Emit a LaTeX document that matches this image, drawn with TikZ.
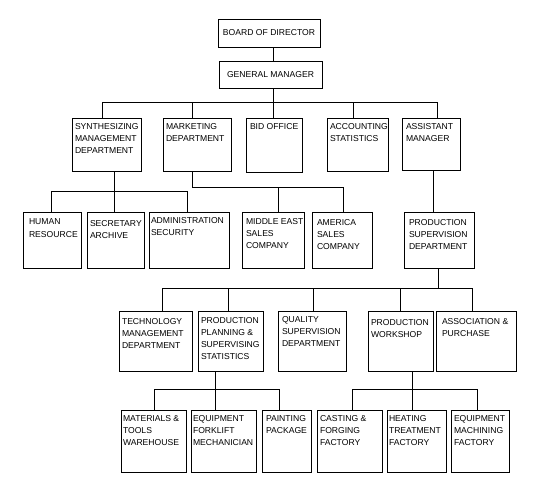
\documentclass[tikz,border=0pt]{standalone}
\usepackage{fontspec}
\setmainfont{Liberation Sans}
\tikzset{
  box/.style={draw, line width=1pt, inner sep=0pt, outer sep=0pt},
  lbl/.style={anchor=north west, inner sep=0pt, outer sep=0pt, align=left,
              font=\fontsize{8.6}{12.2}\selectfont},
  clbl/.style={anchor=center, inner sep=0pt, font=\fontsize{8.6}{12.2}\selectfont},
  conn/.style={line width=1pt},
}
% name, left, top, right, bottom, dx, dy, text
\newcommand\obox[8]{%
  \node[box, minimum width={#4-#2}, minimum height={#5-#3}] (#1) at ({(#2+#4)/2},{(#3+#5)/2}) {};
  \node[lbl] (#1t) at ([xshift=#6pt, yshift=-#7pt]#1.north west) {#8};
}
\newcommand\cbox[6]{%
  \node[box, minimum width={#4-#2}, minimum height={#5-#3}] (#1) at ({(#2+#4)/2},{(#3+#5)/2}) {};
  \node[clbl] (#1t) at (#1.center) {#6};
}
\begin{document}
\begin{tikzpicture}[x=1pt, y=-1pt]
\fill[white] (0,0) rectangle (544,491);
\useasboundingbox (0,0) rectangle (544,491);

% level 0/1
\cbox{bod}{218}{19}{320}{47}{BOARD OF DIRECTOR}
\cbox{gm}{219}{61}{322}{88}{GENERAL MANAGER}

% level 2
\obox{synth}{72}{118}{141}{171}{3}{5}{SYNTHESIZING\\MANAGEMENT\\DEPARTMENT}
\obox{market}{163}{118}{231}{171}{3}{5}{MARKETING\\DEPARTMENT}
\obox{bid}{246}{118}{302}{172}{4}{5}{BID OFFICE}
\obox{acct}{327}{118}{388}{171}{3}{5}{ACCOUNTING\\STATISTICS}
\obox{assist}{402}{118}{460}{170}{4}{5}{ASSISTANT\\MANAGER}

% level 3
\obox{human}{23}{212}{81}{268}{6}{7}{HUMAN\\RESOURCE}
\obox{secr}{87}{212}{144}{268}{3}{8}{SECRETARY\\ARCHIVE}
\obox{admin}{149}{212}{229}{268}{2}{5}{ADMINISTRATION\\SECURITY}
\obox{me}{242}{212}{304}{268}{4}{6}{MIDDLE EAST\\SALES\\COMPANY}
\obox{am}{312}{212}{372}{268}{5}{7}{AMERICA\\SALES\\COMPANY}
\obox{psd}{404}{212}{474}{268}{5}{7}{PRODUCTION\\SUPERVISION\\DEPARTMENT}

% level 4
\obox{tech}{119}{311}{192}{371}{3}{7}{TECHNOLOGY\\MANAGEMENT\\DEPARTMENT}
\obox{ppss}{198}{311}{263}{371}{3}{6}{PRODUCTION\\PLANNING \&\\SUPERVISING\\STATISTICS}
\obox{qual}{278}{311}{346}{371}{4}{5}{QUALITY\\SUPERVISION\\DEPARTMENT}
\obox{pw}{368}{311}{433}{371}{3}{8}{PRODUCTION\\WORKSHOP}
\obox{ap}{436}{311}{516}{371}{6}{7}{ASSOCIATION \&\\PURCHASE}

% level 5
\obox{mt}{121}{410}{186}{472}{2}{5}{MATERIALS \&\\TOOLS\\WAREHOUSE}
\obox{efm}{191}{410}{256}{472}{2}{5}{EQUIPMENT\\FORKLIFT\\MECHANICIAN}
\obox{paint}{262}{410}{311}{472}{4}{5}{PAINTING\\PACKAGE}
\obox{cast}{317}{410}{382}{472}{3}{5}{CASTING \&\\FORGING\\FACTORY}
\obox{heat}{387}{410}{446}{472}{2}{5}{HEATING\\TREATMENT\\FACTORY}
\obox{eqm}{451}{410}{509}{472}{3}{5}{EQUIPMENT\\MACHINING\\FACTORY}

% junction coordinates
\coordinate (j1) at (273,102);
\coordinate (j2l) at (102,102);
\coordinate (j2m) at (192,102);
\coordinate (j2a) at (353,102);
\coordinate (j2r) at (437,102);
\coordinate (js) at (114,191);
\coordinate (jsl) at (51,191);
\coordinate (jsr) at (187,191);
\coordinate (jm) at (192,187);
\coordinate (jme) at (278,187);
\coordinate (jmr) at (343,187);
\coordinate (ja) at (433,190);
\coordinate (jp) at (438,288);
\coordinate (jpl) at (162,288);
\coordinate (jpp) at (228,288);
\coordinate (jpq) at (313,288);
\coordinate (jpw) at (400,288);
\coordinate (jpr) at (472,288);
\coordinate (jq) at (215,389);
\coordinate (jql) at (154,389);
\coordinate (jqr) at (279,389);
\coordinate (jw) at (412,389);
\coordinate (jwl) at (352,389);
\coordinate (jwr) at (477,389);

% connectors
\draw[conn] (bod.south -| j1) -- (gm.north -| j1);
\draw[conn] (gm.south -| j1) -- (bid.north -| j1);
\draw[conn] (synth.north -| j2l) -- (j2l) -- (j2r) -- (assist.north -| j2r);
\draw[conn] (j2m) -- (market.north -| j2m);
\draw[conn] (j2a) -- (acct.north -| j2a);

\draw[conn] (synth.south -| js) -- (secr.north -| js);
\draw[conn] (human.north -| jsl) -- (jsl) -- (jsr) -- (admin.north -| jsr);

\draw[conn] (market.south -| jm) -- (jm) -- (jmr) -- (am.north -| jmr);
\draw[conn] (jme) -- (me.north -| jme);

\draw[conn] (assist.south -| ja) -- (psd.north -| ja);

\draw[conn] (psd.south -| jp) -- (jp);
\draw[conn] (tech.north -| jpl) -- (jpl) -- (jpr) -- (ap.north -| jpr);
\draw[conn] (jpp) -- (ppss.north -| jpp);
\draw[conn] (jpq) -- (qual.north -| jpq);
\draw[conn] (jpw) -- (pw.north -| jpw);

\draw[conn] (ppss.south -| jq) -- (efm.north -| jq);
\draw[conn] (mt.north -| jql) -- (jql) -- (jqr) -- (paint.north -| jqr);

\draw[conn] (pw.south -| jw) -- (heat.north -| jw);
\draw[conn] (cast.north -| jwl) -- (jwl) -- (jwr) -- (eqm.north -| jwr);
\end{tikzpicture}
\end{document}
